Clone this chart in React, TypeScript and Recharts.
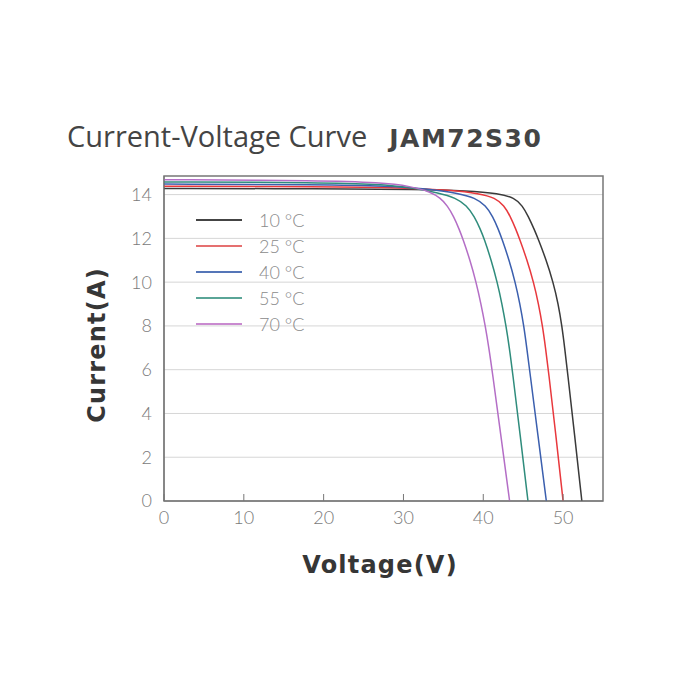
import {
    CartesianGrid,
    Legend,
    Line,
    LineChart,
    ReferenceArea,
    XAxis,
    YAxis,
} from 'recharts';

// I-V points per module temperature, [voltage, current]
const temp10 = [
    [0, 14.28], [20, 14.27], [32, 14.24], [38, 14.18], [42, 14.05], [43.9, 13.85],
    [44.9, 13.5], [45.65, 13.0], [46.4, 12.4], [46.85, 12.0], [47.9, 11.0], [48.75, 10.0],
    [49.4, 9.0], [49.85, 8.0], [50.2, 7.0], [50.52, 6.0], [51.45, 3.0], [52.35, 0],
];
const temp25 = [
    [0, 14.38], [20, 14.36], [30, 14.32], [36, 14.2], [39.5, 14.05], [41.5, 13.85],
    [42.6, 13.5], [43.4, 13.0], [44.1, 12.4], [44.52, 12.0], [45.5, 11.0], [46.3, 10.0],
    [46.93, 9.0], [47.42, 8.0], [47.8, 7.0], [48.15, 6.0], [49.1, 3.0], [50.0, 0],
];
const temp40 = [
    [0, 14.48], [20, 14.45], [28, 14.4], [33, 14.27], [36.8, 14.07], [39.0, 13.85],
    [40.3, 13.5], [41.2, 13.0], [41.9, 12.4], [42.32, 12.0], [43.25, 11.0], [44.0, 10.0],
    [44.6, 9.0], [45.08, 8.0], [45.45, 7.0], [45.8, 6.0], [46.85, 3.0], [47.9, 0],
];
const temp55 = [
    [0, 14.58], [20, 14.55], [27, 14.48], [31, 14.33], [34.3, 14.08], [36.6, 13.85],
    [37.9, 13.5], [38.9, 13.0], [39.65, 12.4], [40.1, 12.0], [41.0, 11.0], [41.75, 10.0],
    [42.35, 9.0], [42.85, 8.0], [43.27, 7.0], [43.63, 6.0], [44.63, 3.0], [45.6, 0],
];
const temp70 = [
    [0, 14.68], [20, 14.64], [27, 14.55], [31, 14.38], [33.4, 14.12], [34.6, 13.85],
    [35.5, 13.5], [36.3, 13.0], [37.0, 12.4], [37.42, 12.0], [38.35, 11.0], [39.1, 10.0],
    [39.72, 9.0], [40.25, 8.0], [40.7, 7.0], [41.1, 6.0], [42.2, 3.0], [43.3, 0],
];

const labels = ['10 °C', '25 °C', '40 °C', '55 °C', '70 °C'];
const lineColors = ['#3a3a3a', '#e8383d', '#3b5fae', '#2f8c7c', '#b46ec6'];
const keyColors = ['#444444', '#e57070', '#5576b8', '#5aa597', '#c98ad0'];

const xTicks = [0, 10, 20, 30, 40, 50];
const yTicks = [0, 2, 4, 6, 8, 10, 12, 14];
const gridValues = [1, 2, 3, 4, 5, 6, 7, 8, 9, 10, 11, 12, 13, 14];

const curves = [temp10, temp25, temp40, temp55, temp70].map((pts) =>
    pts.map(([v, i]) => ({ v, i })),
);

const tickFont = { fontFamily: 'Lato, sans-serif', fontWeight: 300, fontSize: 18, fill: '#7a7a7a' };

function XTick({ x, y, payload }: any) {
    return (
        <g>
            <line x1={x} x2={x} y1={y - 6} y2={y - 13} stroke="#777" strokeWidth={1} />
            <text x={x} y={y + 17} textAnchor="middle" {...tickFont}>
                {payload.value}
            </text>
        </g>
    );
}

function KeyBox() {
    return (
        <div>
            {labels.map((name, idx) => (
                <div key={name} style={{ display: 'flex', alignItems: 'center', height: 26 }}>
                    <div style={{ width: 46, height: 2, background: keyColors[idx], marginRight: 17 }} />
                    <span style={{ ...tickFont, color: '#8a8a8a', lineHeight: '26px' }}>{name}</span>
                </div>
            ))}
        </div>
    );
}

const axisTitle = {
    position: 'absolute' as const,
    fontFamily: '"DejaVu Sans", sans-serif',
    fontWeight: 700,
    fontSize: 24,
    letterSpacing: 1.2,
    color: '#363636',
    whiteSpace: 'nowrap' as const,
};

export default function App() {
    return (
        <div style={{ position: 'absolute', left: 0, top: 0, width: 700, height: 700, background: '#fff' }}>
            <div
                style={{
                    position: 'absolute',
                    left: 67,
                    top: 116,
                    fontFamily: '"Open Sans", sans-serif',
                    fontSize: 29,
                    color: '#444',
                    whiteSpace: 'nowrap',
                }}
            >
                Current-Voltage Curve
                <span
                    style={{
                        fontWeight: 700,
                        marginLeft: 22,
                        fontFamily: '"DejaVu Sans", sans-serif',
                        fontSize: 25,
                        letterSpacing: 1.5,
                    }}
                >
                    JAM72S30
                </span>
            </div>
            <div style={{ ...axisTitle, left: 97, top: 345, transform: 'translate(-50%, -50%) rotate(-90deg)' }}>
                Current(A)
            </div>
            <div style={{ ...axisTitle, left: 380, top: 565, transform: 'translate(-50%, -50%)' }}>
                Voltage(V)
            </div>
            <LineChart width={700} height={700} margin={{ top: 176, right: 97, bottom: 169, left: 104 }}>
                <CartesianGrid horizontal vertical={false} horizontalValues={gridValues} stroke="#d6d6d6" />
                <XAxis
                    type="number"
                    dataKey="v"
                    domain={[0, 55]}
                    ticks={xTicks}
                    height={30}
                    tickSize={6}
                    tickMargin={0}
                    tickLine={false}
                    axisLine={{ stroke: '#777' }}
                    tick={<XTick />}
                    allowDuplicatedCategory={false}
                />
                <YAxis
                    type="number"
                    dataKey="i"
                    domain={[0, 14.85]}
                    ticks={yTicks}
                    width={60}
                    tickLine={false}
                    tickMargin={6}
                    axisLine={{ stroke: '#777' }}
                    tick={tickFont}
                />
                <ReferenceArea x1={0} x2={55} y1={0} y2={14.85} fill="none" stroke="#777" strokeWidth={1.5} />
                {curves.map((data, idx) => (
                    <Line
                        key={labels[idx]}
                        data={data}
                        dataKey="i"
                        name={labels[idx]}
                        type="basis"
                        stroke={lineColors[idx]}
                        strokeWidth={1.5}
                        dot={false}
                        isAnimationActive={false}
                    />
                ))}
                <Legend
                    layout="vertical"
                    align="center"
                    verticalAlign="middle"
                    content={<KeyBox />}
                    wrapperStyle={{ left: 196, top: 207, width: 140 }}
                />
            </LineChart>
        </div>
    );
}
